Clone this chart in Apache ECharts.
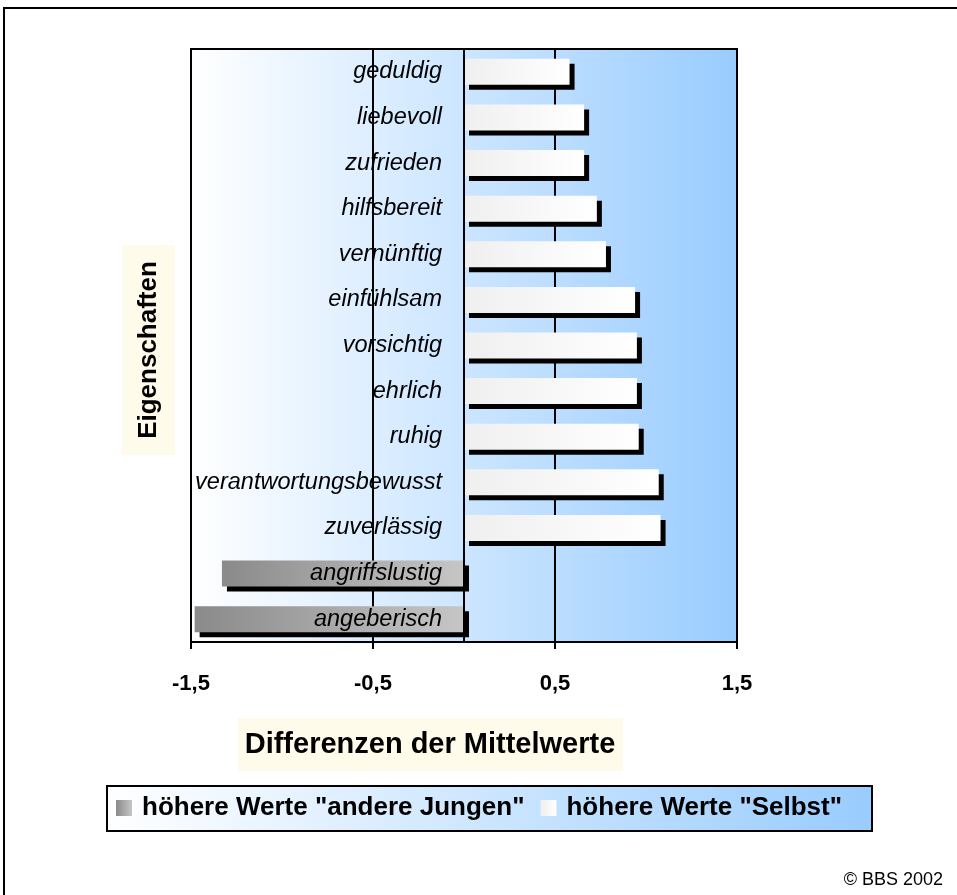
<!DOCTYPE html>
<html>
<head>
<meta charset="utf-8">
<script src="https://cdn.jsdelivr.net/npm/echarts@6/dist/echarts.min.js"></script>
<style>
html, body { margin: 0; padding: 0; background: #ffffff; }
#chart { width: 957px; height: 895px; }
</style>
</head>
<body>
<div id="chart"></div>
<script>
// ---- data ----
const categories = ['geduldig', 'liebevoll', 'zufrieden', 'hilfsbereit', 'vernünftig', 'einfühlsam',
  'vorsichtig', 'ehrlich', 'ruhig', 'verantwortungsbewusst', 'zuverlässig', 'angriffslustig', 'angeberisch'];
const selbstValues = [0.58, 0.66, 0.66, 0.73, 0.78, 0.94, 0.95, 0.95, 0.96, 1.07, 1.08, null, null];
const andereValues = [null, null, null, null, null, null, null, null, null, null, null, -1.33, -1.48];
const tickLabels = ['-1,5', '-0,5', '0,5', '1,5'];
const seriesNames = ['höhere Werte "andere Jungen"', 'höhere Werte "Selbst"'];
const xTitle = 'Differenzen der Mittelwerte';
const yTitle = 'Eigenschaften';
const credit = '© BBS 2002';

const FONT = '"Liberation Sans", Arial, Helvetica, sans-serif';
const chart = echarts.init(document.getElementById('chart'), null, { renderer: 'canvas' });

const lg = (stops) => new echarts.graphic.LinearGradient(0, 0, 1, 0,
  stops.map((c, i) => ({ offset: i / (stops.length - 1), color: c })));

const shadow = { shadowColor: '#000000', shadowOffsetX: 5, shadowOffsetY: 5, shadowBlur: 0 };

chart.setOption({
  animation: false,
  backgroundColor: '#ffffff',
  textStyle: { fontFamily: FONT },
  grid: {
    left: 191, right: 220, top: 49, bottom: 253,
    containLabel: false,
    outerBoundsMode: 'none',
    show: true,
    borderColor: '#000000', borderWidth: 2,
    backgroundColor: lg(['#ffffff', '#99ccff'])
  },
  legend: {
    data: seriesNames,
    left: 116, top: 795, padding: 0,
    itemWidth: 16, itemHeight: 16, itemGap: 16,
    icon: 'rect',
    itemStyle: { shadowBlur: 0, shadowOffsetX: 0, shadowOffsetY: 0, shadowColor: 'rgba(0,0,0,0)' },
    textStyle: { fontFamily: FONT, fontSize: 26, fontWeight: 'bold', color: '#000000', padding: [0, 0, 0, 5] }
  },
  xAxis: [
    { type: 'value', min: -1.5, max: 1.5, show: false },
    {
      type: 'value', min: 0, max: 3, interval: 1, position: 'bottom',
      axisLine: { show: true, lineStyle: { color: '#000000', width: 2 } },
      axisTick: { show: true, length: 7, lineStyle: { color: '#000000', width: 2 } },
      axisLabel: {
        formatter: (v, i) => tickLabels[i],
        margin: 31, fontFamily: FONT, fontSize: 22, fontWeight: 'bold', color: '#000000'
      },
      splitLine: { show: true, lineStyle: { color: '#000000', width: 2 } }
    }
  ],
  yAxis: {
    type: 'category', data: categories, inverse: true, z: 10,
    axisLine: { show: true, onZero: true, onZeroAxisIndex: 0, lineStyle: { color: '#000000', width: 2 } },
    axisTick: { show: false },
    splitLine: { show: false },
    axisLabel: { interval: 0, margin: -251, fontFamily: FONT, fontSize: 23.5, fontStyle: 'italic', color: '#000000' }
  },
  series: [
    {
      name: seriesNames[0], type: 'bar', xAxisIndex: 0, data: andereValues,
      barWidth: 26, barGap: '-100%',
      itemStyle: Object.assign({ color: lg(['#8a8a8a', '#c6c6c6']) }, shadow)
    },
    {
      name: seriesNames[1], type: 'bar', xAxisIndex: 0, data: selbstValues,
      barWidth: 26, barGap: '-100%',
      itemStyle: Object.assign({ color: lg(['#efefef', '#ffffff']) }, shadow)
    }
  ],
  graphic: [
    { type: 'rect', z: 0, shape: { x: 4, y: 8, width: 1200, height: 1200 },
      style: { fill: 'none', stroke: '#000000', lineWidth: 2 } },
    { type: 'rect', z: 0, shape: { x: 122, y: 245, width: 53, height: 210 },
      style: { fill: '#fffbeb' } },
    { type: 'text', z: 1, x: 149, y: 350, rotation: Math.PI / 2,
      style: { text: yTitle, x: 0, y: 0, align: 'center', verticalAlign: 'middle',
        font: 'bold 26px ' + FONT, fill: '#000000' } },
    { type: 'rect', z: 0, shape: { x: 238, y: 718, width: 385, height: 53 },
      style: { fill: '#fffbeb' } },
    { type: 'text', z: 1, x: 430, y: 745,
      style: { text: xTitle, x: 0, y: 0, align: 'center', verticalAlign: 'middle',
        font: 'bold 29px ' + FONT, fill: '#000000' } },
    { type: 'rect', z: 0, shape: { x: 107, y: 786, width: 765, height: 45 },
      style: { fill: lg(['#ffffff', '#99ccff']), stroke: '#000000', lineWidth: 2 } },
    { type: 'text', z: 1, x: 943, y: 880,
      style: { text: credit, x: 0, y: 0, align: 'right', verticalAlign: 'middle',
        font: '18px ' + FONT, fill: '#000000' } }
  ]
});
</script>
</body>
</html>
